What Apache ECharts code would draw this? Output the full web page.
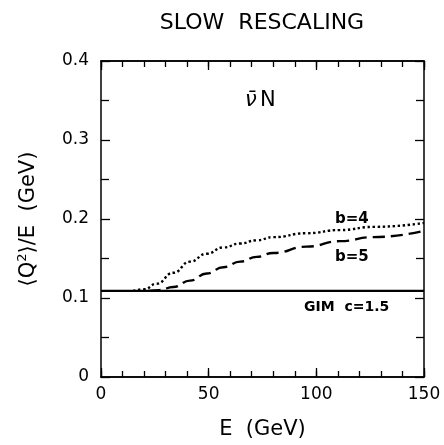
<!DOCTYPE html>
<html><head><meta charset="utf-8">
<script src="https://cdn.jsdelivr.net/npm/echarts@6/dist/echarts.min.js"></script>
<style>html,body{margin:0;padding:0;background:#fff}#c{width:444px;height:445px}</style>
</head><body><div id="c"></div>
<script>
const energyB4 = [15, 20, 25.8, 33.6, 41.3, 49.1, 56.8, 64.6, 72.3, 80, 95.5, 111, 126.5, 150];
const valuesB4 = [0.109, 0.111, 0.118, 0.132, 0.146, 0.156, 0.164, 0.169, 0.173, 0.177, 0.182, 0.186, 0.190, 0.195];
const energyB5 = [22, 27, 33.6, 41.3, 49.1, 56.8, 64.6, 72.3, 80, 95.5, 111, 126.5, 150];
const valuesB5 = [0.109, 0.110, 0.114, 0.122, 0.131, 0.139, 0.146, 0.152, 0.157, 0.165, 0.172, 0.177, 0.185];
const energyGIM = [0, 150];
const valuesGIM = [0.109, 0.109];
const xTicks = [0, 50, 100, 150];
const yTicks = [0, 0.1, 0.2, 0.3, 0.4];
const labels = {title: 'SLOW  RESCALING', nu: 'ν̄', process: 'N', b4: 'b=4', b5: 'b=5', gim: 'GIM  c=1.5'};

const F = '"DejaVu Sans", "Liberation Sans", sans-serif';
const chart = echarts.init(document.getElementById('c'));
const zip = (a, b) => a.map((x, i) => [x, b[i]]);
function ax(extra) {
  return Object.assign({
    axisLine: {show: true, onZero: false, lineStyle: {color: '#000', width: 1.5}},
    axisTick: {show: true, inside: true, length: 9, lineStyle: {color: '#000', width: 1.3}},
    splitLine: {show: false}
  }, extra);
}
const minorX = {show: true, inside: true, length: 6, lineStyle: {color: '#000', width: 1.3}};
const yMinor = {show: true, splitNumber: 2, length: 8, lineStyle: {color: '#000', width: 1.3}};
chart.setOption({
  animation: false,
  grid: {left: 101, right: 20, top: 61, bottom: 64},
  xAxis: [
    ax({type: 'value', min: 0, max: 150, interval: 50, position: 'bottom',
      axisLabel: {color: '#000', fontSize: 17, fontFamily: F, margin: 9,
        formatter: v => xTicks.includes(v) ? String(v) : ''},
      name: 'E  (GeV)', nameLocation: 'middle', nameGap: 42,
      nameTextStyle: {color: '#000', fontSize: 21, fontFamily: F, verticalAlign: 'top'}}),
    ax({type: 'value', min: 0, max: 150, interval: 50, position: 'top', axisLabel: {show: false}}),
    ax({type: 'value', min: 0, max: 150, interval: 10, position: 'bottom', offset: 0,
      axisLabel: {show: false}, axisTick: minorX}),
    ax({type: 'value', min: 0, max: 150, interval: 10, position: 'top', offset: 0,
      axisLabel: {show: false}, axisTick: minorX})
  ],
  yAxis: [
    ax({type: 'value', min: 0, max: 0.4, interval: 0.1, position: 'left', minorTick: yMinor,
      axisLabel: {color: '#000', fontSize: 17, fontFamily: F, margin: 12,
        formatter: v => { const t = yTicks.find(y => Math.abs(y - v) < 1e-9); return t === undefined ? '' : (t === 0 ? '0' : t.toFixed(1)); }},
      name: '⟨Q{sup|2}⟩/E  (GeV)', nameLocation: 'middle', nameGap: 60, nameRotate: 90,
      nameTextStyle: {color: '#000', fontSize: 21, fontFamily: F,
        rich: {sup: {fontSize: 13, verticalAlign: 'top', padding: [0, 0, 12, 0], fontFamily: F, color: '#000'}}}}),
    ax({type: 'value', min: 0, max: 0.4, interval: 0.1, position: 'right', minorTick: yMinor, axisLabel: {show: false}})
  ],
  series: [
    {type: 'line', data: zip(energyGIM, valuesGIM), symbol: 'none', lineStyle: {color: '#000', width: 2.2}},
    {type: 'line', data: zip(energyB4, valuesB4), smooth: 0.5, smoothMonotone: 'x', symbol: 'none',
      lineStyle: {color: '#000', width: 2.4, type: [2.4, 2.6], cap: 'butt'}},
    {type: 'line', data: zip(energyB5, valuesB5), smooth: 0.5, smoothMonotone: 'x', symbol: 'none',
      lineStyle: {color: '#000', width: 2.4, type: [12, 6]}}
  ],
  graphic: [
    {type: 'text', x: 262, y: 23, style: {text: labels.title, fill: '#000', font: '22px ' + F, align: 'center', verticalAlign: 'middle', textAlign: 'center', textVerticalAlign: 'middle'}},
    {type: 'text', x: 245, y: 101, style: {text: labels.nu, fill: '#000', font: 'italic 21px ' + F, verticalAlign: 'middle', textVerticalAlign: 'middle'}},
    {type: 'text', x: 260, y: 101, style: {text: labels.process, fill: '#000', font: '21px ' + F, verticalAlign: 'middle', textVerticalAlign: 'middle'}},
    {type: 'text', x: 335, y: 219, style: {text: labels.b4, fill: '#000', font: 'bold 15px ' + F, verticalAlign: 'middle', textVerticalAlign: 'middle'}},
    {type: 'text', x: 335, y: 257, style: {text: labels.b5, fill: '#000', font: 'bold 15px ' + F, verticalAlign: 'middle', textVerticalAlign: 'middle'}},
    {type: 'text', x: 304, y: 307, style: {text: labels.gim, fill: '#000', font: 'bold 14px ' + F, verticalAlign: 'middle', textVerticalAlign: 'middle'}}
  ]
});
</script></body></html>
